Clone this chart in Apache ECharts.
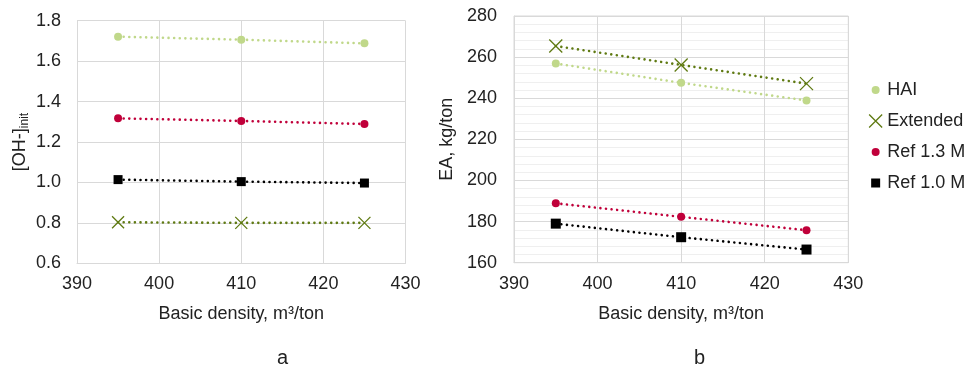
<!DOCTYPE html>
<html><head><meta charset="utf-8">
<script src="https://cdn.jsdelivr.net/npm/echarts@6/dist/echarts.min.js"></script>
<style>html,body{margin:0;padding:0;background:#fff}#c{width:971px;height:372px}</style>
</head><body><div id="c"></div>
<script>
const density = [395, 410, 425];
const xTicks = [390, 400, 410, 420, 430];
// panel a: [OH-]init
const aHAI = [1.721, 1.706, 1.688];
const aRef13 = [1.317, 1.304, 1.289];
const aRef10 = [1.014, 1.004, 0.997];
const aExt = [0.803, 0.800, 0.800];
// panel b: EA, kg/ton
const bHAI = [256.9, 247.5, 238.9];
const bExt = [265.4, 256.2, 247.1];
const bRef13 = [188.9, 182.3, 175.8];
const bRef10 = [179.0, 172.4, 166.4];

const FONT = 'Liberation Sans, Arial, sans-serif';
const C_HAI = '#c0d88a', C_EXT = '#5f7a12', C_R13 = '#c0003a', C_R10 = '#000000';
const XPATH = 'path://M0,0L10,10M10,0L0,10';
// legend icons padded inside a 13x13 box
const L_CIRC = 'path://M0,0M13,13M2.5,6.5a4,4 0 1,0 8,0a4,4 0 1,0 -8,0Z';
const L_RECT = 'path://M0,0M13,13M2,2L11,2L11,11L2,11Z';
const L_X = 'path://M0,0L13,13M13,0L0,13';

function pts(v){ return density.map((x,i)=>[x, v[i]]); }
function ser(name, data, xi, color, sym, size){
  const isX = sym === XPATH;
  return {
    name, type:'line', xAxisIndex:xi, yAxisIndex:xi, data: pts(data),
    symbol: sym, symbolSize: size, showSymbol:true,
    lineStyle:{color, width:2.6, type:[0.01,5.6], cap:'round'},
    itemStyle: isX ? {color:'rgba(0,0,0,0)', borderColor:color, borderWidth:1.3} : {color},
    emphasis:{disabled:true}, z: 3
  };
}
const axisLab = {fontFamily:FONT, fontSize:18, color:'#222'};
const chart = echarts.init(document.getElementById('c'));
chart.setOption({
  animation:false,
  textStyle:{fontFamily:FONT},
  grid:[
    {left:77, right:565.5, top:20.7, bottom:108.7},
    {left:514, right:122.7, top:16, bottom:109.3}
  ],
  xAxis:[0,1].map(i=>({
    type:'value', gridIndex:i, min:xTicks[0], max:xTicks[xTicks.length-1], interval:10,
    name:'Basic density, m³/ton', nameLocation:'middle', nameGap:42,
    nameTextStyle:{fontFamily:FONT, fontSize:18, color:'#222'},
    axisLine:{show:true, lineStyle:{color:'#d9d9d9', width:1}},
    axisTick:{show:false},
    axisLabel:Object.assign({margin:12}, axisLab),
    splitLine:{show:true, lineStyle:{color:'#d9d9d9', width:1}}
  })),
  yAxis:[
    {type:'value', gridIndex:0, min:0.6, max:1.8, interval:0.2,
     name:'{m|[OH-]}{s|init}', nameLocation:'middle', nameGap:46,
     nameTextStyle:{rich:{m:{fontFamily:FONT,fontSize:18,color:'#222'}, s:{fontFamily:FONT,fontSize:12,color:'#222',padding:[10,0,0,0]}}},
     axisLine:{show:false}, axisTick:{show:false},
     axisLabel:Object.assign({margin:16, formatter:v=>v.toFixed(1)}, axisLab),
     splitLine:{lineStyle:{color:'#d9d9d9', width:1}}
    },
    {type:'value', gridIndex:1, min:160, max:280, interval:20,
     name:'EA, kg/ton', nameLocation:'middle', nameGap:58,
     nameTextStyle:{fontFamily:FONT, fontSize:18, color:'#222'},
     axisLine:{show:true, lineStyle:{color:'#d9d9d9'}}, axisTick:{show:false},
     axisLabel:Object.assign({margin:17}, axisLab),
     splitLine:{lineStyle:{color:'#d9d9d9', width:1}},
     minorTick:{show:false, splitNumber:5},
     minorSplitLine:{show:true, lineStyle:{color:'#efefef', width:1}}
    }
  ],
  legend:{
    orient:'vertical', left:868.5, top:81, padding:0, itemGap:13, itemWidth:13, itemHeight:13,
    textStyle:{fontFamily:FONT, fontSize:18, color:'#222'},
    data:[
      {name:'HAI', icon:L_CIRC, itemStyle:{color:C_HAI}},
      {name:'Extended', icon:L_X, itemStyle:{color:'rgba(0,0,0,0)', borderColor:C_EXT, borderWidth:1.3}},
      {name:'Ref 1.3 M', icon:L_CIRC, itemStyle:{color:C_R13}},
      {name:'Ref 1.0 M', icon:L_RECT, itemStyle:{color:C_R10}}
    ]
  },
  graphic:[
    {type:'text', left:277, top:348, style:{text:'a', fontFamily:FONT, fontSize:20, fill:'#222'}},
    {type:'text', left:694, top:348, style:{text:'b', fontFamily:FONT, fontSize:20, fill:'#222'}},
    {type:'rect', shape:{x:514, y:16, width:334.3, height:246.7}, style:{fill:'none', stroke:'#d9d9d9', lineWidth:1}, silent:true, z:1}
  ],
  series:[
    ser('a_HAI', aHAI, 0, C_HAI, 'circle', 8),
    ser('a_Ref13', aRef13, 0, C_R13, 'circle', 8),
    ser('a_Ref10', aRef10, 0, C_R10, 'rect', 9),
    ser('a_Ext', aExt, 0, C_EXT, XPATH, 12),
    ser('HAI', bHAI, 1, C_HAI, 'circle', 8),
    ser('Extended', bExt, 1, C_EXT, XPATH, 13),
    ser('Ref 1.3 M', bRef13, 1, C_R13, 'circle', 8),
    ser('Ref 1.0 M', bRef10, 1, C_R10, 'rect', 10)
  ]
});
</script></body></html>
